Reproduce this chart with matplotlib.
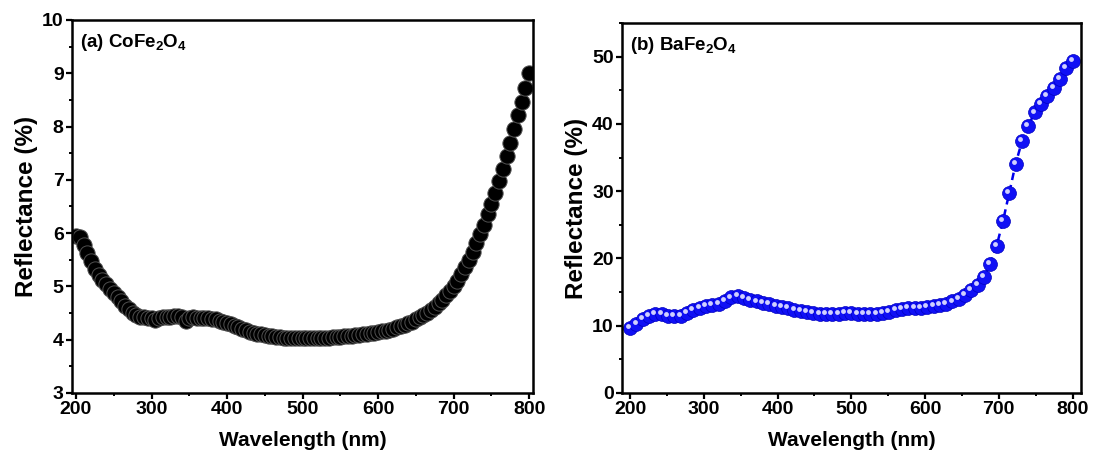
import matplotlib
matplotlib.use('Agg')
import matplotlib.pyplot as plt
from matplotlib.ticker import MultipleLocator
import matplotlib.transforms as mtransforms
import numpy as np

plt.rcParams['font.family'] = ['Liberation Sans', 'DejaVu Sans']
plt.rcParams['font.weight'] = 'bold'
plt.rcParams['mathtext.fontset'] = 'custom'
plt.rcParams['mathtext.rm'] = 'Liberation Sans:bold'
plt.rcParams['mathtext.it'] = 'Liberation Sans:bold'
plt.rcParams['mathtext.bf'] = 'Liberation Sans:bold'
plt.rcParams['mathtext.default'] = 'rm'

# (a) CoFe2O4, read every 5 nm
wl_co = np.arange(200, 801, 5)
refl_co = [5.95, 5.92, 5.78, 5.62, 5.47, 5.33, 5.21, 5.12, 5.04, 4.96,
           4.88, 4.80, 4.72, 4.64, 4.57, 4.51, 4.46, 4.43, 4.42, 4.41,
           4.40, 4.37, 4.41, 4.42, 4.42, 4.43, 4.45, 4.44, 4.42, 4.36,
           4.41, 4.42, 4.41, 4.41, 4.40, 4.40, 4.39, 4.38, 4.36, 4.34,
           4.32, 4.29, 4.26, 4.23, 4.20, 4.18, 4.15, 4.13, 4.11, 4.10,
           4.08, 4.07, 4.06, 4.05, 4.05, 4.04, 4.04, 4.04, 4.04, 4.04,
           4.04, 4.04, 4.04, 4.04, 4.04, 4.04, 4.04, 4.04, 4.05, 4.05,
           4.05, 4.06, 4.06, 4.07, 4.08, 4.09, 4.10, 4.11, 4.12, 4.13,
           4.14, 4.16, 4.17, 4.19, 4.21, 4.23, 4.25, 4.28, 4.31, 4.34,
           4.38, 4.42, 4.46, 4.51, 4.56, 4.62, 4.68, 4.75, 4.83, 4.91,
           5.00, 5.11, 5.23, 5.36, 5.50, 5.65, 5.81, 5.98, 6.16, 6.35,
           6.55, 6.76, 6.98, 7.21, 7.45, 7.70, 7.95, 8.21, 8.47, 8.73,
           9.00]

# (b) BaFe2O4
wl_ba = np.linspace(200, 800, 71)
refl_ba = [9.7, 10.3, 11.0, 11.5, 11.8, 11.7, 11.5, 11.4, 11.5, 11.9,
           12.3, 12.6, 12.9, 13.1, 13.3, 13.7, 14.2, 14.4, 14.1, 13.8,
           13.6, 13.4, 13.2, 13.0, 12.8, 12.6, 12.4, 12.2, 12.1, 11.9,
           11.8, 11.8, 11.8, 11.8, 11.9, 11.9, 11.8, 11.8, 11.8, 11.8,
           11.9, 12.1, 12.3, 12.5, 12.6, 12.6, 12.7, 12.8, 12.9, 13.1,
           13.3, 13.6, 14.0, 14.5, 15.3, 16.1, 17.3, 19.2, 21.9, 25.6,
           29.8, 34.1, 37.4, 39.7, 41.7, 43.0, 44.1, 45.4, 46.7, 48.3,
           49.4]

fig = plt.figure(figsize=(10.94, 4.54), dpi=100)
ax1 = fig.add_axes([0.0658, 0.1344, 0.4214, 0.8216])
ax2 = fig.add_axes([0.5686, 0.1344, 0.4192, 0.8150])


def style_axes(ax):
    for s in ax.spines.values():
        s.set_linewidth(1.8)
    ax.tick_params(which='major', direction='out', length=4, width=1.6,
                   labelsize=14, top=False, right=False, pad=2)
    ax.tick_params(which='minor', direction='out', length=2.5, width=1.4,
                   top=False, right=False)
    ax.xaxis.set_major_locator(MultipleLocator(100))
    ax.xaxis.set_minor_locator(MultipleLocator(50))
    for lab in ax.get_xticklabels() + ax.get_yticklabels():
        lab.set_fontweight('bold')
    ax.set_xlabel('Wavelength (nm)', fontsize=15, fontweight='bold', labelpad=9)
    ax.set_ylabel('Reflectance (%)', fontsize=17.5, fontweight='bold', labelpad=3)


# --- left panel ---
ax1.plot(wl_co, refl_co, color='black', linestyle='-', linewidth=1,
         marker='o', markersize=11, markerfacecolor='black',
         markeredgecolor='#505050', markeredgewidth=0.7)
ax1.set_xlim(194.7, 805)
ax1.set_ylim(3, 10)
ax1.yaxis.set_major_locator(MultipleLocator(1))
ax1.yaxis.set_minor_locator(MultipleLocator(0.5))
style_axes(ax1)
ax1.text(0.017, 0.94, r'(a) CoFe$_2$O$_4$', transform=ax1.transAxes,
         fontsize=13.5, fontweight='bold', va='center', ha='left')

# --- right panel ---
ax2.plot(wl_ba, refl_ba, color='#0000ee', linestyle='--', linewidth=1.8,
         dashes=(3, 2), marker='o', markersize=10, markerfacecolor='#1010f5',
         markeredgecolor='#0000c0', markeredgewidth=0.5)
hl2 = mtransforms.offset_copy(ax2.transData, fig=fig, x=-1.4, y=1.4, units='points')
ax2.plot(wl_ba, refl_ba, linestyle='none', marker='o', markersize=3.5,
         markerfacecolor='#d0d0ff', markeredgecolor='none', transform=hl2)
ax2.set_xlim(189, 811)
ax2.set_ylim(0, 55)
ax2.yaxis.set_major_locator(MultipleLocator(10))
ax2.yaxis.set_minor_locator(MultipleLocator(5))
style_axes(ax2)
ax2.text(0.017, 0.94, r'(b) BaFe$_2$O$_4$', transform=ax2.transAxes,
         fontsize=13.5, fontweight='bold', va='center', ha='left')

fig.savefig('out.png', dpi=100)
